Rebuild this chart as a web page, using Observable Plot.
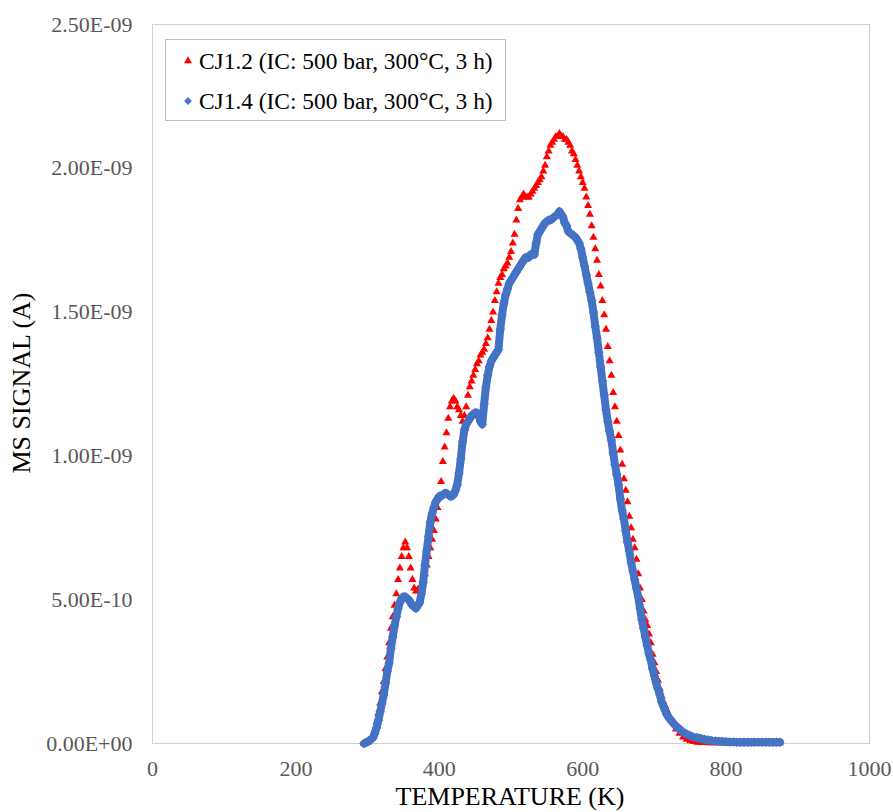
<!DOCTYPE html>
<html>
<head>
<meta charset="utf-8">
<script src="https://cdn.jsdelivr.net/npm/d3@7"></script>
<script src="https://cdn.jsdelivr.net/npm/@observablehq/plot@0.6"></script>
<style>
  html, body { margin: 0; padding: 0; background: #fff; }
  #wrap { position: relative; width: 893px; height: 812px; overflow: hidden; font-family: "Liberation Serif", "Times New Roman", serif; }
  .ttl { position: absolute; color: #000; font-size: 26px; line-height: 1; white-space: nowrap; }
  #legend { position: absolute; left: 165px; top: 39px; width: 339px; height: 80px; border: 1px solid #bfbfbf; background: #fff; }
  .lrow { position: absolute; left: 0; height: 30px; display: flex; align-items: center; font-size: 23.4px; color: #000; white-space: nowrap; }
  .lrow svg { margin-left: 16px; margin-right: 5px; }
</style>
</head>
<body>
<div id="wrap"></div>
<script>
// Temperature (K)
const temps = [
  295,297.5,300,302.5,305,307.5,310,312.5,315,317.5,
  320,322.5,325,327.5,330,332.5,335,337.5,340,342.5,
  345,347.5,350,352.5,355,357.5,360,362.5,365,367.5,
  370,372.5,375,377.5,380,382.5,385,387.5,390,392.5,
  395,397.5,400,402.5,405,407.5,410,412.5,415,417.5,
  420,422.5,425,427.5,430,432.5,435,437.5,440,442.5,
  445,447.5,450,452.5,455,457.5,460,462.5,465,467.5,
  470,472.5,475,477.5,480,482.5,485,487.5,490,492.5,
  495,497.5,500,502.5,505,507.5,510,512.5,515,517.5,
  520,522.5,525,527.5,530,532.5,535,537.5,540,542.5,
  545,547.5,550,552.5,555,557.5,560,562.5,565,567.5,
  570,572.5,575,577.5,580,582.5,585,587.5,590,592.5,
  595,597.5,600,602.5,605,607.5,610,612.5,615,617.5,
  620,622.5,625,627.5,630,632.5,635,637.5,640,642.5,
  645,647.5,650,652.5,655,657.5,660,662.5,665,667.5,
  670,672.5,675,677.5,680,682.5,685,687.5,690,692.5,
  695,697.5,700,702.5,705,707.5,710,712.5,715,717.5,
  720,725,730,735,740,745,750,755,760,765,
  770,775,780,785,790,795,800,805,810,815,
  820,825,830,835,840,845,850,855,860,865,
  870,875
];
// MS signal, in units of 1E-09 A
const cj12 = [
  0,0.002,0.005,0.01,0.018,0.03,0.048,0.075,0.105,0.14,
  0.18,0.215,0.26,0.30,0.35,0.40,0.44,0.48,0.52,0.57,
  0.61,0.65,0.68,0.70,0.68,0.65,0.61,0.57,0.54,0.53,
  0.535,0.54,0.55,0.57,0.59,0.62,0.65,0.68,0.71,0.74,
  0.78,0.82,0.86,0.91,0.98,1.03,1.08,1.13,1.17,1.19,
  1.20,1.19,1.17,1.16,1.14,1.12,1.14,1.17,1.21,1.24,
  1.26,1.28,1.30,1.32,1.33,1.35,1.36,1.37,1.39,1.41,
  1.44,1.47,1.50,1.54,1.57,1.60,1.62,1.63,1.65,1.66,
  1.67,1.69,1.71,1.74,1.77,1.82,1.86,1.89,1.90,1.91,
  1.90,1.90,1.90,1.91,1.92,1.93,1.94,1.95,1.96,1.97,
  1.99,2.01,2.04,2.06,2.08,2.09,2.10,2.11,2.11,2.12,
  2.11,2.11,2.10,2.10,2.09,2.08,2.06,2.05,2.03,2.01,
  1.99,1.97,1.95,1.93,1.90,1.87,1.84,1.80,1.76,1.72,
  1.68,1.63,1.59,1.54,1.49,1.44,1.38,1.33,1.28,1.22,
  1.17,1.12,1.07,1.02,0.97,0.92,0.88,0.84,0.79,0.75,
  0.71,0.68,0.64,0.59,0.54,0.50,0.46,0.43,0.41,0.38,
  0.35,0.31,0.28,0.25,0.22,0.19,0.165,0.145,0.13,0.115,
  0.10,0.075,0.05,0.035,0.022,0.014,0.009,0.006,0.004,0.003,
  0.003,0.002,0.002,0.002,0.002,0.002,0.002,0.002,0.002,0.002,
  0.002,0.002,0.002,0.002,0.002,0.002,0.002,0.002,0.002,0.002,
  0.002,0.002
];
const cj14 = [
  0,0.003,0.006,0.01,0.015,0.02,0.035,0.055,0.08,0.11,
  0.14,0.17,0.21,0.25,0.28,0.33,0.37,0.41,0.44,0.47,
  0.49,0.505,0.51,0.51,0.505,0.50,0.49,0.48,0.475,0.47,
  0.48,0.49,0.52,0.56,0.62,0.67,0.72,0.77,0.80,0.82,
  0.84,0.85,0.86,0.86,0.865,0.87,0.87,0.865,0.86,0.86,
  0.865,0.88,0.90,0.94,0.99,1.05,1.09,1.11,1.12,1.13,
  1.14,1.145,1.15,1.15,1.14,1.12,1.11,1.18,1.24,1.28,
  1.31,1.33,1.34,1.35,1.36,1.37,1.44,1.49,1.53,1.56,
  1.58,1.60,1.61,1.62,1.63,1.64,1.65,1.66,1.67,1.68,
  1.69,1.69,1.69,1.70,1.70,1.70,1.74,1.77,1.78,1.79,
  1.80,1.81,1.815,1.82,1.82,1.825,1.83,1.835,1.84,1.85,
  1.84,1.83,1.81,1.80,1.78,1.775,1.77,1.765,1.76,1.75,
  1.74,1.72,1.69,1.66,1.63,1.60,1.57,1.54,1.50,1.45,
  1.41,1.36,1.31,1.26,1.21,1.16,1.12,1.085,1.055,1.01,
  0.97,0.935,0.90,0.85,0.81,0.78,0.74,0.70,0.67,0.63,
  0.60,0.57,0.54,0.51,0.47,0.43,0.40,0.37,0.34,0.31,
  0.29,0.26,0.235,0.21,0.19,0.17,0.145,0.13,0.115,0.10,
  0.09,0.075,0.06,0.05,0.04,0.032,0.027,0.022,0.02,0.017,
  0.014,0.012,0.01,0.009,0.008,0.007,0.006,0.005,0.005,0.004,
  0.004,0.004,0.004,0.004,0.004,0.004,0.004,0.004,0.004,0.004,
  0.004,0.004
];
const seriesNames = ["CJ1.2 (IC: 500 bar, 300°C, 3 h)", "CJ1.4 (IC: 500 bar, 300°C, 3 h)"];
const xTicks = [0, 200, 400, 600, 800, 1000];
const yTicks = [0, 5e-10, 1e-9, 1.5e-9, 2e-9, 2.5e-9];
const xTitle = "TEMPERATURE (K)";
const yTitle = "MS SIGNAL (A)";

const red = "#FF0000", blue = "#4472C4";
const redData = temps.map((t, i) => ({t, v: cj12[i] * 1e-9}));
const blueData = temps.map((t, i) => ({t, v: cj14[i] * 1e-9}));

function sci(v) {
  if (v === 0) return "0.00E+00";
  const e = Math.floor(Math.log10(Math.abs(v)) + 1e-9);
  const m = v / Math.pow(10, e);
  return m.toFixed(2) + "E" + (e < 0 ? "-" : "+") + String(Math.abs(e)).padStart(2, "0");
}

const chart = Plot.plot({
  width: 893,
  height: 812,
  marginLeft: 152,
  marginRight: 24,
  marginTop: 24,
  marginBottom: 69,
  style: { fontFamily: "'Liberation Serif', 'Times New Roman', serif", fontSize: "22px", color: "#595959", background: "#fff" },
  x: { domain: [0, 1000], ticks: xTicks, tickFormat: d => String(d), tickSize: 0, tickPadding: 17, label: null },
  y: { domain: [0, 2.5e-9], ticks: yTicks, tickFormat: sci, tickSize: 0, tickPadding: 20, label: null },
  marks: [
    Plot.frame({ stroke: "#d0d0d0" }),
    Plot.dot(redData, { x: "t", y: "v", symbol: "triangle", r: 3, fill: red, stroke: null }),
    Plot.line(blueData, { x: "t", y: "v", stroke: blue, strokeWidth: 8 }),
    Plot.dot(blueData, { x: "t", y: "v", symbol: "diamond2", r: 4.3, fill: blue, stroke: null })
  ]
});

const wrap = document.getElementById("wrap");
wrap.appendChild(chart);

const xt = document.createElement("div");
xt.className = "ttl";
xt.textContent = xTitle;
xt.style.left = "510px"; xt.style.top = "784px"; xt.style.transform = "translateX(-50%)";
wrap.appendChild(xt);

const yt = document.createElement("div");
yt.className = "ttl";
yt.textContent = yTitle;
yt.style.left = "22px"; yt.style.top = "383px"; yt.style.transform = "translate(-50%,-50%) rotate(-90deg)";
wrap.appendChild(yt);

const lg = document.createElement("div");
lg.id = "legend";
const syms = [
  `<svg width="12" height="12" viewBox="-6 -6 12 12"><path d="${d3.symbol(d3.symbolTriangle, Math.PI * 3 * 3)()}" fill="${red}"/></svg>`,
  `<svg width="12" height="12" viewBox="-6 -6 12 12"><path d="${d3.symbol(d3.symbolDiamond2, Math.PI * 3.5 * 3.5)()}" fill="${blue}"/></svg>`
];
seriesNames.forEach((name, i) => {
  const row = document.createElement("div");
  row.className = "lrow";
  row.style.top = (i === 0 ? 6 : 46) + "px";
  row.innerHTML = syms[i] + `<span>${name}</span>`;
  lg.appendChild(row);
});
wrap.appendChild(lg);
</script>
</body>
</html>
